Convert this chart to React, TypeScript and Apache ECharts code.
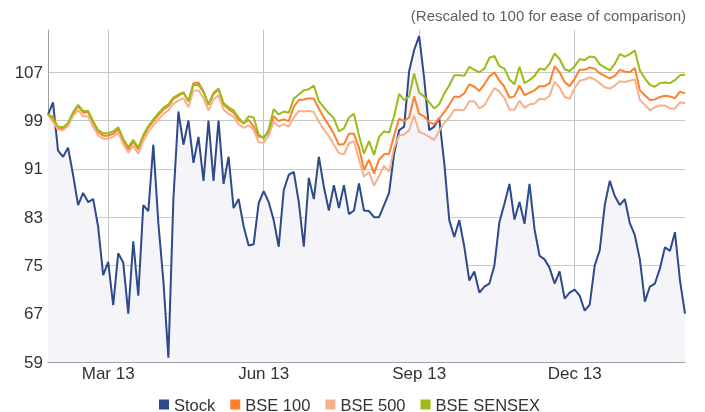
import React, { useEffect, useRef } from "react";
import * as echarts from "echarts";

const dates = [
  "2013-01-24", "2013-01-27", "2013-01-30", "2013-02-02", "2013-02-05", "2013-02-08", "2013-02-11", "2013-02-14", "2013-02-17", "2013-02-20",
  "2013-02-23", "2013-02-26", "2013-03-01", "2013-03-04", "2013-03-07", "2013-03-10", "2013-03-13", "2013-03-16", "2013-03-19", "2013-03-22",
  "2013-03-25", "2013-03-28", "2013-03-31", "2013-04-03", "2013-04-06", "2013-04-09", "2013-04-12", "2013-04-15", "2013-04-18", "2013-04-21",
  "2013-04-24", "2013-04-27", "2013-04-30", "2013-05-03", "2013-05-06", "2013-05-09", "2013-05-12", "2013-05-15", "2013-05-18", "2013-05-21",
  "2013-05-24", "2013-05-27", "2013-05-30", "2013-06-02", "2013-06-05", "2013-06-08", "2013-06-11", "2013-06-14", "2013-06-17", "2013-06-20",
  "2013-06-23", "2013-06-26", "2013-06-29", "2013-07-02", "2013-07-05", "2013-07-08", "2013-07-11", "2013-07-14", "2013-07-17", "2013-07-20",
  "2013-07-23", "2013-07-26", "2013-07-29", "2013-08-01", "2013-08-04", "2013-08-07", "2013-08-10", "2013-08-13", "2013-08-16", "2013-08-19",
  "2013-08-22", "2013-08-25", "2013-08-28", "2013-08-31", "2013-09-02", "2013-09-05", "2013-09-08", "2013-09-11", "2013-09-14", "2013-09-17",
  "2013-09-20", "2013-09-23", "2013-09-26", "2013-09-29", "2013-10-02", "2013-10-05", "2013-10-08", "2013-10-11", "2013-10-14", "2013-10-17",
  "2013-10-20", "2013-10-23", "2013-10-26", "2013-10-29", "2013-11-01", "2013-11-04", "2013-11-07", "2013-11-10", "2013-11-13", "2013-11-16",
  "2013-11-19", "2013-11-22", "2013-11-25", "2013-11-28", "2013-11-30", "2013-12-02", "2013-12-05", "2013-12-08", "2013-12-11", "2013-12-14",
  "2013-12-17", "2013-12-20", "2013-12-23", "2013-12-26", "2013-12-29", "2014-01-01", "2014-01-04", "2014-01-07", "2014-01-10", "2014-01-13",
  "2014-01-16", "2014-01-19", "2014-01-22", "2014-01-25", "2014-01-28", "2014-01-31", "2014-02-03", "2014-02-06",
];

const stock = [
  100, 102, 94, 93, 94.5, 90, 85, 87, 85.5, 86,
  81.4, 73.4, 75.6, 68.4, 77, 75.5, 67, 79, 70, 85,
  84, 95, 82, 72.5, 59.7, 86, 100.5, 95, 99, 92,
  96.3, 89, 99, 89, 99, 88.5, 93, 84.5, 86, 81.5,
  78.3, 78.5, 85.3, 87.3, 85.5, 82.5, 78.1, 87.5, 90, 90.5,
  85.5, 78.1, 89.5, 86, 93, 88, 84.1, 88.3, 84.5, 88.3,
  83.5, 84.1, 88.6, 84.1, 84, 83, 83, 85, 87, 93.5,
  97.4, 98, 107.2, 110.7, 113, 106, 97.4, 98, 99.4, 92,
  82.5, 79.7, 82.5, 78.1, 72.5, 74, 70.5, 71.5, 72, 75,
  82.2, 85.2, 88.5, 82.6, 85.5, 81.9, 88.5, 81, 76.6, 76,
  74.6, 72, 74, 69.5, 70.5, 71, 70, 67.5, 68.5, 75,
  77.5, 85, 89, 86.5, 85, 86, 82, 80, 76, 69,
  71.5, 72, 74.5, 78, 77.4, 80.5, 72.5, 67,
];

const bse100 = [
  100, 99.6, 97.7, 97.6, 98.3, 100.1, 101.4, 100.3, 100.4, 98.6,
  97.1, 96.5, 96.5, 96.8, 97.6, 95.6, 94.2, 95.5, 94.2, 96.3,
  97.8, 98.9, 99.9, 100.8, 101.4, 102.6, 103.1, 103.6, 102.2, 105.2,
  105.3, 103.8, 101.6, 103.4, 104.1, 101.6, 100.9, 100.3, 99.1, 98.5,
  99.1, 98, 96.3, 96.3, 97, 99.7, 98.9, 99.2, 98.9, 101.3,
  102.4, 102.5, 102.7, 102.6, 101, 99.5, 98.2, 96.8, 95, 95.1,
  96.8, 96.8, 94.5, 90.8, 92.5, 90.2, 92.5, 93.4, 93.5, 96.5,
  99.3, 98.9, 99.5, 103, 100.1, 99.7, 98.7, 98.4, 99.3, 100.4,
  101.6, 103, 102.9, 103.5, 105, 104.6, 103.9, 105, 106.3, 107,
  105.6, 104.6, 102.8, 103, 104.8, 103.2, 103.6, 104, 104.7, 104.7,
  105.2, 108, 107, 105.4, 104.7, 105.9, 107.4, 107.4, 107.8, 107.6,
  106.8, 106.4, 106, 106.4, 107.4, 107.1, 107, 107.7, 104, 103.2,
  102.4, 102.5, 102.9, 103.1, 103, 102.7, 103.8, 103.5,
];

const bse500 = [
  100, 98.8, 97.5, 97.4, 98.1, 99.8, 100.7, 99.7, 99.7, 98,
  96.5, 96, 96, 96.3, 97, 95.1, 93.7, 94.8, 93.5, 95.6,
  97.1, 98.2, 99.2, 100.1, 100.7, 101.8, 102.3, 102.7, 101.2, 103.9,
  104, 102.7, 100.7, 102.5, 103.2, 100.8, 100.1, 99.6, 98.4, 97.8,
  98.2, 97.5, 95.4, 95.3, 96.5, 98.8, 98, 98.4, 98, 99.5,
  100.6, 100.5, 100.6, 100.4, 98.8, 97.5, 96.4, 95, 93.6, 93.4,
  95.2, 95.6, 92.5, 89.7, 90.5, 88.2, 89.8, 91.5, 90.5, 94.5,
  96.5, 96.7, 97.4, 99.8, 97.1, 96.8, 96.3, 95.8, 97.3, 98.6,
  99.5, 100.8, 100.7, 100.8, 102.2, 102.2, 101, 101.5, 103, 104.4,
  103.8, 102.7, 100.8, 100.8, 102.3, 101.1, 101.7, 101.8, 102.6, 102.5,
  103.1, 105.4, 104.5, 102.9, 102.6, 104.4, 105.6, 105.8, 106.2, 105.8,
  105.2, 104.5, 104.3, 104.8, 105.5, 105.4, 105.6, 105.8, 102.4, 101.6,
  100.7, 101.2, 101.5, 101.5, 101, 101, 102, 101.9,
];

const sensex = [
  100, 99.3, 98, 97.9, 98.6, 100.4, 101.6, 100.6, 100.6, 98.9,
  97.4, 96.9, 96.9, 97.2, 97.9, 96, 94.6, 95.8, 94.5, 96.6,
  98.1, 99.2, 100.2, 101.1, 101.7, 102.8, 103.3, 103.7, 102.2, 104.9,
  104.9, 103.7, 101.7, 103.6, 104.3, 101.9, 101.2, 100.7, 99.5, 98.5,
  99.7, 99.5, 96.7, 96, 97.5, 100.9, 100, 100.5, 100.3, 102.6,
  103.3, 104, 104.2, 104.8, 102.2, 101.2, 100.2, 99.4, 97.2, 97.7,
  99.5, 100.1, 96.5, 93.5, 95.6, 93.3, 96.3, 97.2, 97, 99.7,
  103.4, 102.4, 103, 106.8, 103.6, 103, 102, 101, 101.7, 103.5,
  104.8, 106.5, 106.5, 106.4, 107.9, 107.4, 107, 107.6, 109.4, 109.7,
  108, 107.6, 105.8, 105, 107.9, 105.2, 105.7, 106.4, 107.6, 107.4,
  108.4, 110.1, 109.2, 107.5, 107.2, 108, 109.2, 109, 109.6, 109.5,
  108.3, 107.8, 107.3, 108.4, 110, 109.6, 110, 110.6, 107.3, 106,
  104.9, 104.6, 105.2, 105.3, 105.2, 105.7, 106.5, 106.6,
];

const yTicks = [59, 67, 75, 83, 91, 99, 107];
const quarterMonths = ["03", "06", "09", "12"];
const monthNames: Record<string, string> = {
  "01": "Jan", "02": "Feb", "03": "Mar", "04": "Apr", "05": "May", "06": "Jun",
  "07": "Jul", "08": "Aug", "09": "Sep", "10": "Oct", "11": "Nov", "12": "Dec",
};
const subtitle = "(Rescaled to 100 for ease of comparison)";

const FONT = "'Liberation Sans', Arial, Helvetica, sans-serif";

function isQuarterStart(index: number): boolean {
  if (index <= 0) return false;
  const m = dates[index].slice(5, 7);
  return m !== dates[index - 1].slice(5, 7) && quarterMonths.includes(m);
}

export default function App() {
  const ref = useRef<HTMLDivElement>(null);

  useEffect(() => {
    if (!ref.current) return;
    const chart = echarts.init(ref.current, undefined, { renderer: "svg" });
    const lineSeries = (name: string, data: number[], color: string, extra: any = {}) => ({
      name,
      type: "line",
      data,
      symbol: "none",
      smooth: false,
      lineStyle: { color, width: 2 },
      itemStyle: { color },
      ...extra,
    });
    chart.setOption({
      animation: false,
      textStyle: { fontFamily: FONT },
      title: {
        text: subtitle,
        right: 14,
        top: 3,
        textStyle: { fontSize: 15, fontWeight: "normal", color: "#606060", fontFamily: FONT },
      },
      legend: {
        left: 154,
        top: 391,
        icon: "rect",
        itemWidth: 10,
        itemHeight: 10,
        itemGap: 15,
        textStyle: { fontSize: 16.5, color: "#333", fontFamily: FONT },
        data: ["Stock", "BSE 100", "BSE 500", "BSE SENSEX"],
      },
      grid: { left: 48, right: 20, top: 30, bottom: 50 },
      xAxis: {
        type: "category",
        data: dates,
        boundaryGap: false,
        axisLine: { show: true, lineStyle: { color: "#a0a0a0", width: 1 } },
        axisTick: { show: false },
        axisLabel: {
          interval: (i: number) => isQuarterStart(i),
          formatter: (v: string) => monthNames[v.slice(5, 7)] + " " + v.slice(2, 4),
          fontSize: 17,
          color: "#333",
          margin: 3,
          fontFamily: FONT,
        },
        splitLine: {
          show: true,
          interval: (i: number) => isQuarterStart(i),
          lineStyle: { color: "#c4c4c4", width: 1 },
        },
      },
      yAxis: {
        type: "value",
        min: 59,
        max: 114,
        axisLine: { show: true, lineStyle: { color: "#a0a0a0", width: 1 } },
        axisTick: { show: false, customValues: yTicks },
        axisLabel: {
          customValues: yTicks,
          fontSize: 17,
          color: "#333",
          margin: 5,
          fontFamily: FONT,
        },
        splitLine: { show: true, lineStyle: { color: "#c8c8c8", width: 1 } },
      },
      series: [
        lineSeries("Stock", stock, "#2e4a8b", {
          areaStyle: { color: "#f4f4f9", origin: "start", opacity: 1 },
          z: 3,
        }),
        lineSeries("BSE 100", bse100, "#ff7f2a", { z: 4 }),
        lineSeries("BSE 500", bse500, "#f6b18c", { z: 4 }),
        lineSeries("BSE SENSEX", sensex, "#9bbb17", { z: 4 }),
      ],
    });
    return () => chart.dispose();
  }, []);

  return (
    <div
      ref={ref}
      style={{ position: "fixed", left: 0, top: 0, width: 705, height: 412 }}
    />
  );
}
